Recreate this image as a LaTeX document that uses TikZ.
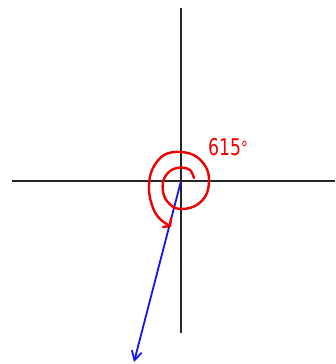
\documentclass[tikz,border=0pt]{standalone}
\usepackage{fontspec}
\setmainfont{DejaVu Sans}
\usetikzlibrary{arrows.meta}
\definecolor{hred}{RGB}{240,0,0}
\definecolor{hblue}{RGB}{20,20,240}
\tikzset{
  axis/.style={line width=1.7pt, draw=black!85},
  vec/.style={line width=1.8pt, draw=hblue, -{Straight Barb[length=9pt,width=10pt,line width=1.8pt]}},
  spiral/.style={line width=2.4pt, draw=hred, line cap=round, line join=round},
  lab/.style={text=hred, font=\fontsize{23}{23}\selectfont, inner sep=0pt}
}
\begin{document}
\begin{tikzpicture}[x=1pt,y=-1pt]
\useasboundingbox[fill=white] (0,0) rectangle (335,364);
\coordinate (O) at (181,181);
\coordinate (top) at (181,8);
\coordinate (bot) at (181,333);
\coordinate (lft) at (12,181);
\coordinate (rgt) at (335,181);
\coordinate (tip) at (134,362);
\draw[axis] (top) -- (bot);
\draw[axis] (lft) -- (rgt);
\draw[vec] (O) -- (tip);
\draw[spiral] plot[smooth, tension=0.6] coordinates {
 (194,178) (190,170) (181,167.5) (170,171) (163,182) (165,198) (177,208.5)
 (195,206) (207,193) (208,172) (197,157) (181,152) (164,155) (152,170)
 (149,190) (153,208) (160,219) (170,226)};
\draw[spiral] (170,226) -- (163,227);
\draw[spiral] (170,226) -- (171,218);
\node[lab, xscale=0.75] (ang) at (228,147) {615\raisebox{1pt}{\fontsize{18}{18}\selectfont°}};
\end{tikzpicture}
\end{document}
